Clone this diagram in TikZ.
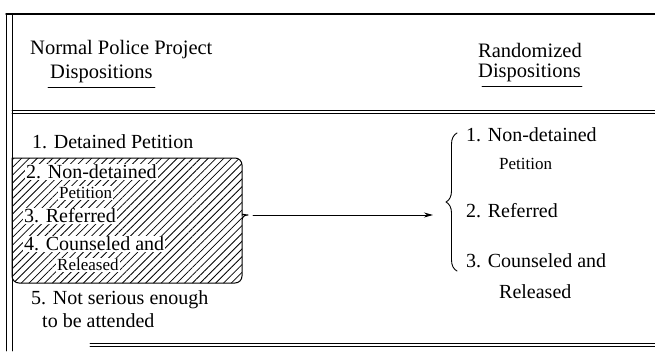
\documentclass[tikz,border=0pt]{standalone}
\usepackage{fontspec}
\setmainfont{Liberation Serif}
\usetikzlibrary{arrows.meta}
\usetikzlibrary{positioning}
\usetikzlibrary{patterns.meta}
\usetikzlibrary{decorations.pathreplacing}

\begin{document}
\begin{tikzpicture}[x=1pt,y=-1pt,line cap=round,line join=round]
\tikzset{
  rule/.style={line width=0.9pt},
  head/.style={anchor=west,inner sep=0pt,font=\fontsize{20.5}{22}\selectfont},
  item/.style={anchor=west,inner sep=1pt,fill=white,font=\fontsize{20}{22}\selectfont},
  itemsm/.style={item,font=\fontsize{17}{19}\selectfont},
  hatch/.style={pattern={Lines[angle=45,distance=5.5pt,line width=0.8pt]}},
}
\useasboundingbox (0,0) rectangle (655,351);
% frame
\draw[rule,line width=1.4pt] (6,14) -- (655,14);
\draw[rule] (6,14) -- (6,351);
\draw[rule] (12,14) -- (12,351);
\draw[rule] (12,110) -- (655,110);
\draw[rule] (12,113.5) -- (655,113.5);
\draw[rule] (90,343) -- (655,343);
\draw[rule] (90,346) -- (655,346);
% headings
\node[head] (npp) at (30,50) {Normal Police Project};
\node[head] (ndisp) at (50,74) {Dispositions};
\draw[rule] ([xshift=-2pt,yshift=-4pt]ndisp.south west) -- ([xshift=2pt,yshift=-4pt]ndisp.south east);
\node[head] (rand) at (478,50) {Randomized};
\node[head] (rdisp) at (478,73) {Dispositions};
\draw[rule] ([xshift=4pt,yshift=-4pt]rdisp.south west) -- ([xshift=1pt,yshift=-4pt]rdisp.south east);
% shaded box
\draw[line width=1pt,hatch] (12,158) [rounded corners=7pt] -- (242,158) -- (242,209) [sharp corners]
  .. controls (242,213) and (244,215) .. (248,215) .. controls (244,215) and (242,217) .. (242,221)
  [rounded corners=7pt] -- (242,283) -- (12,283) [sharp corners] -- cycle;
\coordinate (boxtip) at (248,215);
% left items
\node[item] (ldet) at (31,142) {1. Detained Petition};
\node[item] (lnon) at (25,172) {2. Non-detained};
\node[itemsm] (lpet) at (58,193) {Petition};
\node[item] (lref) at (23,216) {3. Referred};
\node[item] (lcou) at (23,244) {4. Counseled and};
\node[itemsm] (lrel) at (56,265) {Released};
\node[item] (lnot) at (30,300) {5. Not serious enough};
\node[item] (latt) at (41,321) {to be attended};
% right items
\draw[line width=0.9pt,decorate,decoration={brace,amplitude=11pt}] (457,271) -- (457,133);
\coordinate (rtip) at (445,215);
\node[item] (rnon) at (465,135) {1. Non-detained};
\node[itemsm] (rpet) at (498,164) {Petition};
\node[item] (rref) at (465,211) {2. Referred};
\node[item] (rcou) at (465,261) {3. Counseled and};
\node[item] (rrel) at (498,292) {Released};
% arrow
\draw[line width=0.9pt,-{Stealth[length=9pt,width=5pt]}] ([xshift=5pt]boxtip) -- ([xshift=-12pt]rtip);
\end{tikzpicture}
\end{document}
